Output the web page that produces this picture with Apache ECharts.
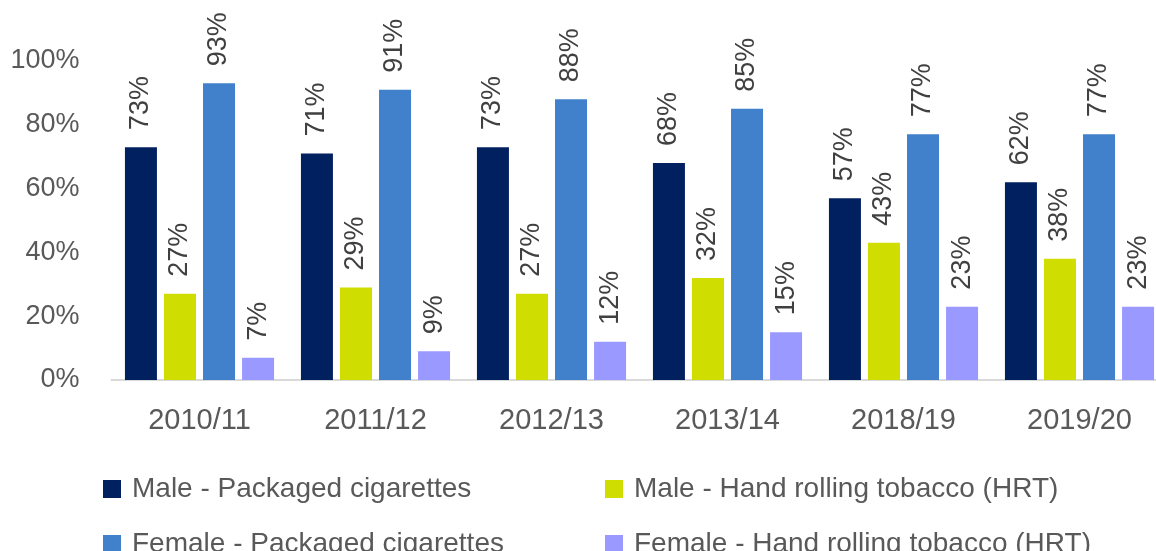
<!DOCTYPE html>
<html>
<head>
<meta charset="utf-8">
<script src="https://cdn.jsdelivr.net/npm/echarts@6/dist/echarts.min.js"></script>
<style>
  html, body { margin: 0; padding: 0; background: #fff; }
  #chart { width: 1156px; height: 551px; }
</style>
</head>
<body>
<div id="chart"></div>
<script>
// Survey years
const years = ['2010/11', '2011/12', '2012/13', '2013/14', '2018/19', '2019/20'];

// Share of smokers using each product type (%)
const malePackaged = [73, 71, 73, 68, 57, 62];
const maleHRT = [27, 29, 27, 32, 43, 38];
const femalePackaged = [93, 91, 88, 85, 77, 77];
const femaleHRT = [7, 9, 12, 15, 23, 23];

const seriesNames = [
  'Male - Packaged cigarettes',
  'Male - Hand rolling tobacco (HRT)',
  'Female - Packaged cigarettes',
  'Female - Hand rolling tobacco (HRT)'
];
const seriesData = [malePackaged, maleHRT, femalePackaged, femaleHRT];
const colors = ['#002060', '#CFDD00', '#4180CB', '#9999FF'];

// Y-axis ticks
const yMin = 0, yMax = 100, yStep = 20;

const FONT = '"Liberation Sans", Arial, sans-serif';

const chart = echarts.init(document.getElementById('chart'), null, { renderer: 'canvas' });

const legendPos = [
  { left: 103, top: 475 },
  { left: 605, top: 475 },
  { left: 103, top: 530 },
  { left: 605, top: 530 }
];

chart.setOption({
  animation: false,
  color: colors,
  grid: {
    left: 111.5,
    top: 61,
    width: 1056,
    bottom: 171,
    containLabel: false,
    outerBoundsMode: 'none'
  },
  legend: seriesNames.map((name, i) => ({
    data: [name],
    left: legendPos[i].left,
    top: legendPos[i].top,
    padding: 0,
    icon: 'rect',
    itemWidth: 18,
    itemHeight: 18,
    selectedMode: false,
    textStyle: {
      fontFamily: FONT,
      fontSize: 28,
      color: '#595959',
      lineHeight: 18,
      padding: [0, 0, 0, 6]
    }
  })),
  xAxis: {
    type: 'category',
    data: years,
    axisLine: { lineStyle: { color: '#D9D9D9', width: 2 } },
    axisTick: { show: false },
    axisLabel: {
      fontFamily: FONT,
      fontSize: 29,
      color: '#595959',
      margin: 26
    }
  },
  yAxis: {
    type: 'value',
    min: yMin,
    max: yMax,
    interval: yStep,
    splitLine: { show: false },
    axisLine: { show: false },
    axisTick: { show: false },
    axisLabel: {
      fontFamily: FONT,
      fontSize: 27,
      color: '#595959',
      margin: 32,
      formatter: '{value}%'
    }
  },
  series: seriesNames.map((name, i) => ({
    name: name,
    type: 'bar',
    data: seriesData[i],
    barWidth: 32,
    barGap: '22%',
    itemStyle: { color: colors[i] },
    label: {
      show: true,
      position: 'top',
      rotate: 90,
      align: 'left',
      verticalAlign: 'middle',
      distance: 17,
      fontFamily: FONT,
      fontSize: 27,
      color: '#404040',
      formatter: '{c}%'
    }
  }))
});
</script>
</body>
</html>
